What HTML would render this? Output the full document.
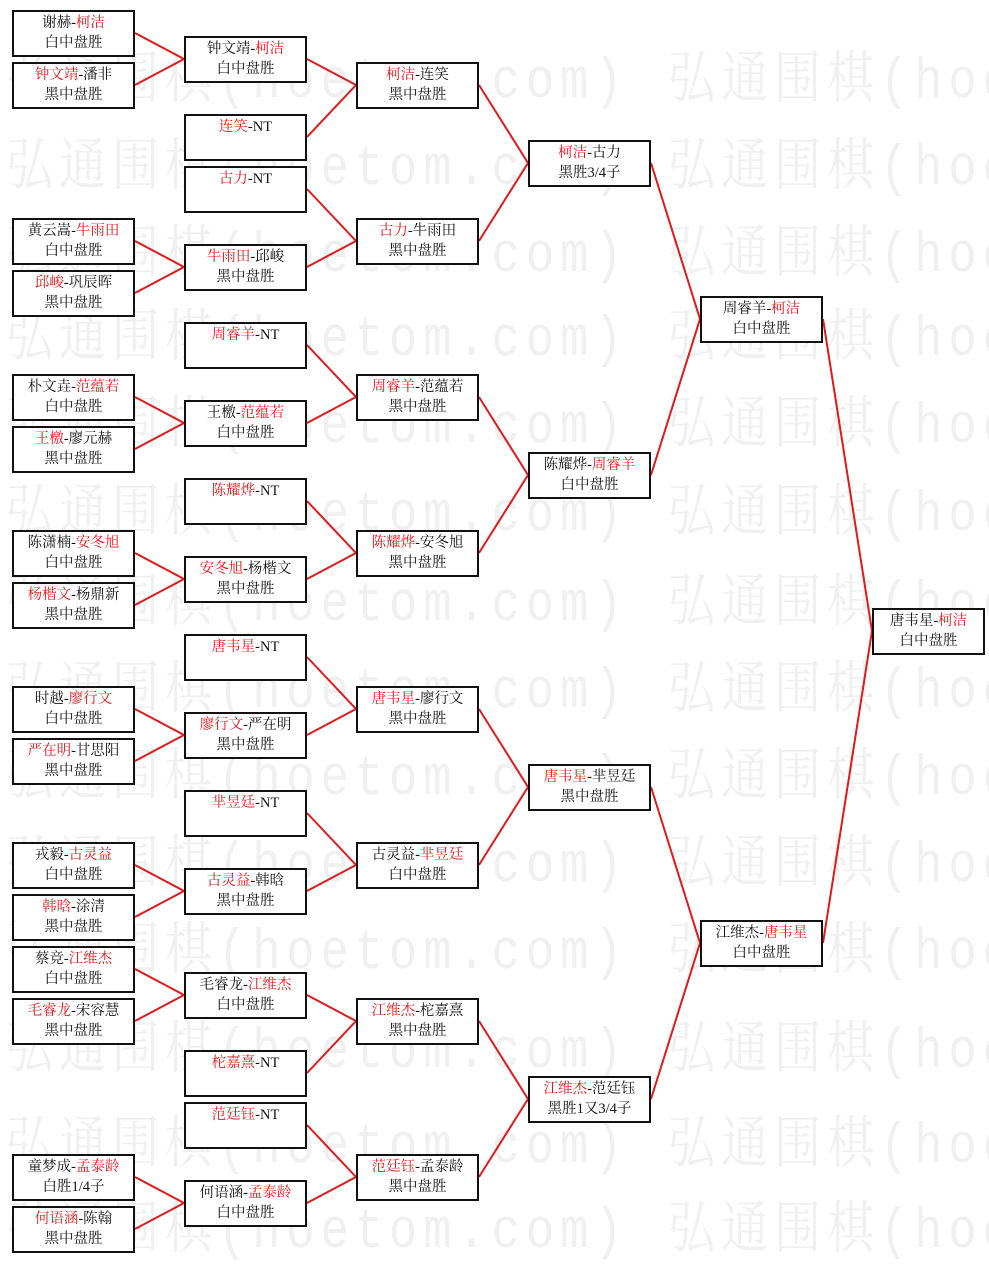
<!DOCTYPE html>
<html><head><meta charset="utf-8"><style>
html,body{margin:0;padding:0;}
body{width:989px;height:1261px;position:relative;overflow:hidden;background:#fff;font-family:"Liberation Serif","Noto Serif CJK SC","Noto Sans CJK SC",serif;}
.wm{position:absolute;left:6px;font-size:47px;line-height:47px;color:#f0f0f0;white-space:nowrap;font-family:"Liberation Mono","Noto Serif CJK SC",monospace;letter-spacing:6px;transform:scaleY(1.2);transform-origin:0 0}
.wm span{display:inline-block;width:662px}
.b{position:absolute;width:119px;height:42px;border:2px solid #111;background:#fff;font-size:14.5px;line-height:20px;text-align:center;color:#111;padding-top:1px;box-sizing:content-box}
.b i{font-style:normal;color:#e0191c}
.c1{left:12px}.c2{left:184px}.c3{left:356px}.c4{left:528px}.c5{left:700px}.c6{left:872px;width:109px}
svg{position:absolute;left:0;top:0}
</style></head><body>
<div class="wm" style="top:55px"><span>弘通围棋(hoetom.com)</span><span>弘通围棋(hoetom.com)</span></div>
<div class="wm" style="top:142px"><span>弘通围棋(hoetom.com)</span><span>弘通围棋(hoetom.com)</span></div>
<div class="wm" style="top:229px"><span>弘通围棋(hoetom.com)</span><span>弘通围棋(hoetom.com)</span></div>
<div class="wm" style="top:313px"><span>弘通围棋(hoetom.com)</span><span>弘通围棋(hoetom.com)</span></div>
<div class="wm" style="top:400px"><span>弘通围棋(hoetom.com)</span><span>弘通围棋(hoetom.com)</span></div>
<div class="wm" style="top:488px"><span>弘通围棋(hoetom.com)</span><span>弘通围棋(hoetom.com)</span></div>
<div class="wm" style="top:578px"><span>弘通围棋(hoetom.com)</span><span>弘通围棋(hoetom.com)</span></div>
<div class="wm" style="top:665px"><span>弘通围棋(hoetom.com)</span><span>弘通围棋(hoetom.com)</span></div>
<div class="wm" style="top:752px"><span>弘通围棋(hoetom.com)</span><span>弘通围棋(hoetom.com)</span></div>
<div class="wm" style="top:839px"><span>弘通围棋(hoetom.com)</span><span>弘通围棋(hoetom.com)</span></div>
<div class="wm" style="top:926px"><span>弘通围棋(hoetom.com)</span><span>弘通围棋(hoetom.com)</span></div>
<div class="wm" style="top:1025px"><span>弘通围棋(hoetom.com)</span><span>弘通围棋(hoetom.com)</span></div>
<div class="wm" style="top:1120px"><span>弘通围棋(hoetom.com)</span><span>弘通围棋(hoetom.com)</span></div>
<div class="wm" style="top:1205px"><span>弘通围棋(hoetom.com)</span><span>弘通围棋(hoetom.com)</span></div>
<svg width="989" height="1261" stroke="#e0191c" stroke-width="2" fill="none">
<path d="M135 33L184 59L135 85M135 241L184 267L135 293M135 397L184 423L135 449M135 553L184 579L135 605M135 709L184 735L135 761M135 865L184 891L135 917M135 969L184 995L135 1021M135 1177L184 1203L135 1229"/>
<path d="M307 59L356 85L307 137M307 189L356 241L307 267M307 345L356 397L307 423M307 501L356 553L307 579M307 657L356 709L307 735M307 813L356 865L307 891M307 995L356 1021L307 1073M307 1125L356 1177L307 1203"/>
<path d="M479 85L528 163L479 241M479 397L528 475L479 553M479 709L528 787L479 865M479 1021L528 1099L479 1177"/>
<path d="M651 163L700 319L651 475M651 787L700 943L651 1099"/>
<path d="M823 319L872 631L823 943"/>
</svg>
<div class="b c1" style="top:10px">谢赫-<i>柯洁</i><br>白中盘胜</div>
<div class="b c1" style="top:62px"><i>钟文靖</i>-潘非<br>黑中盘胜</div>
<div class="b c1" style="top:218px">黄云嵩-<i>牛雨田</i><br>白中盘胜</div>
<div class="b c1" style="top:270px"><i>邱峻</i>-巩辰晖<br>黑中盘胜</div>
<div class="b c1" style="top:374px">朴文垚-<i>范蕴若</i><br>白中盘胜</div>
<div class="b c1" style="top:426px"><i>王檄</i>-廖元赫<br>黑中盘胜</div>
<div class="b c1" style="top:530px">陈潇楠-<i>安冬旭</i><br>白中盘胜</div>
<div class="b c1" style="top:582px"><i>杨楷文</i>-杨鼎新<br>黑中盘胜</div>
<div class="b c1" style="top:686px">时越-<i>廖行文</i><br>白中盘胜</div>
<div class="b c1" style="top:738px"><i>严在明</i>-甘思阳<br>黑中盘胜</div>
<div class="b c1" style="top:842px">戎毅-<i>古灵益</i><br>白中盘胜</div>
<div class="b c1" style="top:894px"><i>韩晗</i>-涂清<br>黑中盘胜</div>
<div class="b c1" style="top:946px">蔡竞-<i>江维杰</i><br>白中盘胜</div>
<div class="b c1" style="top:998px"><i>毛睿龙</i>-宋容慧<br>黑中盘胜</div>
<div class="b c1" style="top:1154px">童梦成-<i>孟泰龄</i><br>白胜1/4子</div>
<div class="b c1" style="top:1206px"><i>何语涵</i>-陈翰<br>黑中盘胜</div>

<div class="b c2" style="top:36px">钟文靖-<i>柯洁</i><br>白中盘胜</div>
<div class="b c2" style="top:114px"><i>连笑</i>-NT</div>
<div class="b c2" style="top:166px"><i>古力</i>-NT</div>
<div class="b c2" style="top:244px"><i>牛雨田</i>-邱峻<br>黑中盘胜</div>
<div class="b c2" style="top:322px"><i>周睿羊</i>-NT</div>
<div class="b c2" style="top:400px">王檄-<i>范蕴若</i><br>白中盘胜</div>
<div class="b c2" style="top:478px"><i>陈耀烨</i>-NT</div>
<div class="b c2" style="top:556px"><i>安冬旭</i>-杨楷文<br>黑中盘胜</div>
<div class="b c2" style="top:634px"><i>唐韦星</i>-NT</div>
<div class="b c2" style="top:712px"><i>廖行文</i>-严在明<br>黑中盘胜</div>
<div class="b c2" style="top:790px"><i>芈昱廷</i>-NT</div>
<div class="b c2" style="top:868px"><i>古灵益</i>-韩晗<br>黑中盘胜</div>
<div class="b c2" style="top:972px">毛睿龙-<i>江维杰</i><br>白中盘胜</div>
<div class="b c2" style="top:1050px"><i>柁嘉熹</i>-NT</div>
<div class="b c2" style="top:1102px"><i>范廷钰</i>-NT</div>
<div class="b c2" style="top:1180px">何语涵-<i>孟泰龄</i><br>白中盘胜</div>

<div class="b c3" style="top:62px"><i>柯洁</i>-连笑<br>黑中盘胜</div>
<div class="b c3" style="top:218px"><i>古力</i>-牛雨田<br>黑中盘胜</div>
<div class="b c3" style="top:374px"><i>周睿羊</i>-范蕴若<br>黑中盘胜</div>
<div class="b c3" style="top:530px"><i>陈耀烨</i>-安冬旭<br>黑中盘胜</div>
<div class="b c3" style="top:686px"><i>唐韦星</i>-廖行文<br>黑中盘胜</div>
<div class="b c3" style="top:842px">古灵益-<i>芈昱廷</i><br>白中盘胜</div>
<div class="b c3" style="top:998px"><i>江维杰</i>-柁嘉熹<br>黑中盘胜</div>
<div class="b c3" style="top:1154px"><i>范廷钰</i>-孟泰龄<br>黑中盘胜</div>

<div class="b c4" style="top:140px"><i>柯洁</i>-古力<br>黑胜3/4子</div>
<div class="b c4" style="top:452px">陈耀烨-<i>周睿羊</i><br>白中盘胜</div>
<div class="b c4" style="top:764px"><i>唐韦星</i>-芈昱廷<br>黑中盘胜</div>
<div class="b c4" style="top:1076px"><i>江维杰</i>-范廷钰<br>黑胜1又3/4子</div>

<div class="b c5" style="top:296px">周睿羊-<i>柯洁</i><br>白中盘胜</div>
<div class="b c5" style="top:920px">江维杰-<i>唐韦星</i><br>白中盘胜</div>

<div class="b c6" style="top:608px">唐韦星-<i>柯洁</i><br>白中盘胜</div>
</body></html>
